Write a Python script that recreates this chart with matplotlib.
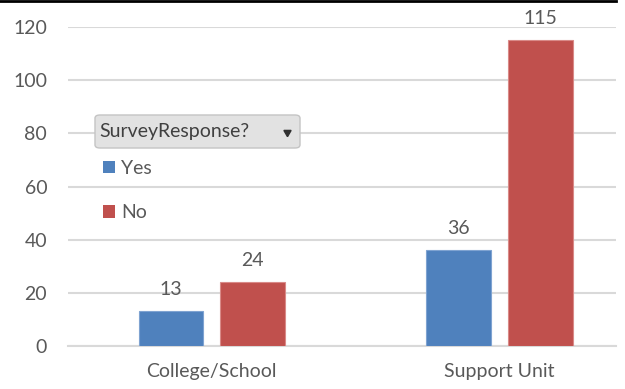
import matplotlib.pyplot as plt
from matplotlib.patches import FancyBboxPatch, Patch
from matplotlib.lines import Line2D
import numpy as np

##Data##
categories = ['College/School', 'Support Unit']
yes_counts = [13, 36]
no_counts = [24, 115]
series_names = ['Yes', 'No']
y_ticks = [0, 20, 40, 60, 80, 100, 120]

BLUE = '#4F81BD'
RED = '#C0504D'
GRID = '#D9D9D9'
TEXT = '#595959'
FS = 14

plt.rcParams['font.family'] = ['Lato', 'DejaVu Sans']

fig = plt.figure(figsize=(6.25, 3.89), dpi=100)
ax = fig.add_axes([68/625, 1 - 346/389, (616 - 68)/625, (346 - 27)/389])

x = np.arange(len(categories))
w = 0.224
off = 0.142
b1 = ax.bar(x - off, yes_counts, w, color=BLUE, edgecolor='#7FA3D1', linewidth=0.8, zorder=3)
b2 = ax.bar(x + off, no_counts, w, color=RED, edgecolor='#D98A88', linewidth=0.8, zorder=3)

# value labels above bars
for bars, vals in [(b1, yes_counts), (b2, no_counts)]:
    for r, v in zip(bars, vals):
        ax.annotate(str(v), (r.get_x() + r.get_width()/2, v), xytext=(0, 12),
                    textcoords='offset points', ha='center', va='baseline',
                    fontsize=FS, color=TEXT, clip_on=False)

ax.set_xlim(-0.5, 1.405)
ax.set_ylim(0, 120)
ax.set_yticks(y_ticks)
ax.set_xticks(x)
ax.set_xticklabels(categories)
ax.yaxis.grid(True, color=GRID, linewidth=1.5, zorder=0)
ax.set_axisbelow(True)
for s in ['top', 'right', 'left']:
    ax.spines[s].set_visible(False)
ax.spines['bottom'].set_color(GRID)
ax.spines['bottom'].set_linewidth(1.5)
ax.tick_params(axis='both', length=0, labelsize=FS, labelcolor=TEXT)
ax.tick_params(axis='y', pad=15)
ax.tick_params(axis='x', pad=12)

# pivot field button
btn = FancyBboxPatch((95/625, 1 - 148/389), (300 - 95)/625, (148 - 115)/389,
                     boxstyle='round,pad=0,rounding_size=0.008', transform=fig.transFigure,
                     facecolor='#E2E2E2', edgecolor='#C4C4C4', linewidth=1, zorder=10)
fig.patches.append(btn)
fig.text(99/625, 1 - 132/389, 'SurveyResponse?', fontsize=FS, color='#404040',
         va='center', ha='left', zorder=11)
fig.add_artist(Line2D([287/625], [1 - 132/389], marker=(3, 0, 180), markersize=6,
                      color='#303030', transform=fig.transFigure, zorder=11))

# legend entries
handles = [Patch(facecolor=BLUE), Patch(facecolor=RED)]
fig.legend(handles, series_names, loc='upper left', bbox_to_anchor=(103/625, 1 - 160/389),
           frameon=False, fontsize=FS, labelcolor=TEXT, handlelength=0.6, handleheight=0.6,
           handletextpad=0.35, labelspacing=1.4, borderpad=0, borderaxespad=0)

# black line at top of screenshot
fig.add_artist(Line2D([0, 616/625], [1 - 1/389, 1 - 1/389], color='black', linewidth=2,
                      transform=fig.transFigure))

fig.savefig('out.png', dpi=100)
